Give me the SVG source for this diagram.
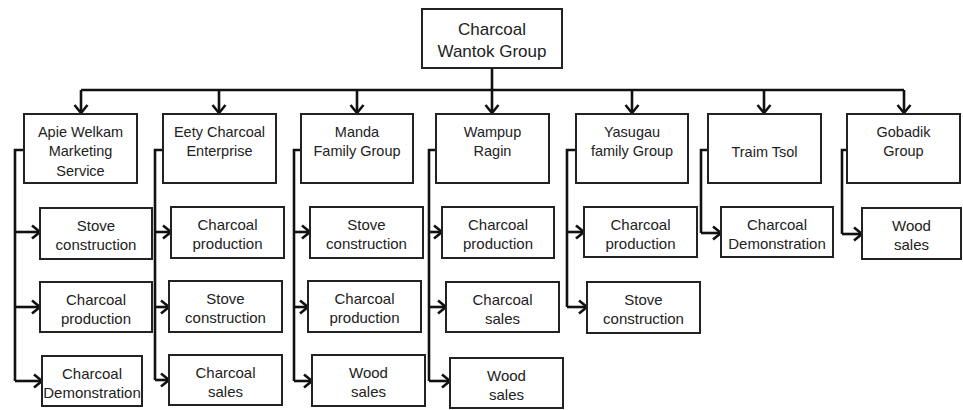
<svg xmlns="http://www.w3.org/2000/svg" width="963" height="410" viewBox="0 0 963 410">
<style>
.box{fill:#fff;stroke:#222;stroke-width:2}
.t1{font-family:"Liberation Sans",Arial,sans-serif;font-size:14.5px;fill:#222;text-anchor:middle}
.t0{font-family:"Liberation Sans",Arial,sans-serif;font-size:17px;fill:#222;text-anchor:middle}
.t2{font-family:"Liberation Sans",Arial,sans-serif;font-size:15px;fill:#222;text-anchor:middle}
.c{fill:none;stroke:#111;stroke-width:2.6}
.a{fill:none;stroke:#111;stroke-width:2.6;marker-end:url(#arr)}
</style>
<defs>
<marker id="arr" markerUnits="userSpaceOnUse" markerWidth="14" markerHeight="16" refX="11" refY="8" orient="auto">
<path d="M3,1.5 L11,8 L3,14.5" fill="none" stroke="#111" stroke-width="2.6"/>
</marker>
</defs>
<g id="connectors">
<path class="c" d="M492,68 V90 M81,90 H904"/>
<path class="a" d="M81,90 V113"/>
<path class="a" d="M219,90 V113"/>
<path class="a" d="M357,90 V113"/>
<path class="a" d="M492,90 V113"/>
<path class="a" d="M632,90 V113"/>
<path class="a" d="M764,90 V113"/>
<path class="a" d="M904,90 V113"/>
<path class="c" d="M24,150 H15 V381"/>
<path class="a" d="M15,232 H40"/>
<path class="a" d="M15,307 H40"/>
<path class="a" d="M15,381 H42"/>
<path class="c" d="M163,150 H155 V380"/>
<path class="a" d="M155,232 H171"/>
<path class="a" d="M155,307 H169"/>
<path class="a" d="M155,380 H169"/>
<path class="c" d="M301,150 H294 V381"/>
<path class="a" d="M294,232 H310"/>
<path class="a" d="M294,307 H308"/>
<path class="a" d="M294,381 H312"/>
<path class="c" d="M436,150 H429 V381"/>
<path class="a" d="M429,232 H442"/>
<path class="a" d="M429,307 H446"/>
<path class="a" d="M429,381 H450"/>
<path class="c" d="M576,150 H567 V307"/>
<path class="a" d="M567,232 H584"/>
<path class="a" d="M567,307 H587"/>
<path class="c" d="M708,150 H701 V233"/>
<path class="a" d="M701,233 H721"/>
<path class="c" d="M847,150 H842 V234"/>
<path class="a" d="M842,234 H862"/>
</g>
<g id="root"><rect class="box" x="422" y="9" width="140" height="59"/><text class="t0" x="492" y="35">Charcoal</text><text class="t0" x="492" y="57">Wantok Group</text></g>
<g id="n1"><rect class="box" x="24" y="114" width="113" height="69"/><text class="t1" x="80.5" y="137">Apie Welkam</text><text class="t1" x="80.5" y="156">Marketing</text><text class="t1" x="80.5" y="176">Service</text></g>
<g id="n2"><rect class="box" x="163" y="114" width="113" height="69"/><text class="t1" x="219.5" y="137">Eety Charcoal</text><text class="t1" x="219.5" y="156">Enterprise</text></g>
<g id="n3"><rect class="box" x="301" y="114" width="112" height="69"/><text class="t1" x="357" y="137">Manda</text><text class="t1" x="357" y="156">Family Group</text></g>
<g id="n4"><rect class="box" x="436" y="114" width="113" height="69"/><text class="t1" x="492.5" y="137">Wampup</text><text class="t1" x="492.5" y="156">Ragin</text></g>
<g id="n5"><rect class="box" x="576" y="114" width="112" height="69"/><text class="t1" x="632" y="137">Yasugau</text><text class="t1" x="632" y="156">family Group</text></g>
<g id="n6"><rect class="box" x="708" y="114" width="113" height="69"/><text class="t1" x="764.5" y="157">Traim Tsol</text></g>
<g id="n7"><rect class="box" x="847" y="114" width="113" height="69"/><text class="t1" x="903.5" y="137">Gobadik</text><text class="t1" x="903.5" y="156">Group</text></g>
<g id="n1a"><rect class="box" x="40" y="208" width="112" height="51"/><text class="t2" x="96" y="231">Stove</text><text class="t2" x="96" y="250">construction</text></g>
<g id="n1b"><rect class="box" x="40" y="282" width="112" height="50"/><text class="t2" x="96" y="305">Charcoal</text><text class="t2" x="96" y="324">production</text></g>
<g id="n1c"><rect class="box" x="42" y="356" width="100" height="50"/><text class="t2" x="92" y="379">Charcoal</text><text class="t2" x="92" y="398">Demonstration</text></g>
<g id="n2a"><rect class="box" x="171" y="207" width="113" height="51"/><text class="t2" x="227.5" y="230">Charcoal</text><text class="t2" x="227.5" y="249">production</text></g>
<g id="n2b"><rect class="box" x="169" y="281" width="113" height="51"/><text class="t2" x="225.5" y="304">Stove</text><text class="t2" x="225.5" y="323">construction</text></g>
<g id="n2c"><rect class="box" x="169" y="355" width="113" height="50"/><text class="t2" x="225.5" y="378">Charcoal</text><text class="t2" x="225.5" y="397">sales</text></g>
<g id="n3a"><rect class="box" x="310" y="207" width="113" height="51"/><text class="t2" x="366.5" y="230">Stove</text><text class="t2" x="366.5" y="249">construction</text></g>
<g id="n3b"><rect class="box" x="308" y="281" width="113" height="51"/><text class="t2" x="364.5" y="304">Charcoal</text><text class="t2" x="364.5" y="323">production</text></g>
<g id="n3c"><rect class="box" x="312" y="355" width="113" height="51"/><text class="t2" x="368.5" y="378">Wood</text><text class="t2" x="368.5" y="397">sales</text></g>
<g id="n4a"><rect class="box" x="442" y="207" width="112" height="51"/><text class="t2" x="498" y="230">Charcoal</text><text class="t2" x="498" y="249">production</text></g>
<g id="n4b"><rect class="box" x="446" y="282" width="113" height="50"/><text class="t2" x="502.5" y="305">Charcoal</text><text class="t2" x="502.5" y="324">sales</text></g>
<g id="n4c"><rect class="box" x="450" y="358" width="113" height="50"/><text class="t2" x="506.5" y="381">Wood</text><text class="t2" x="506.5" y="400">sales</text></g>
<g id="n5a"><rect class="box" x="584" y="207" width="113" height="50"/><text class="t2" x="640.5" y="230">Charcoal</text><text class="t2" x="640.5" y="249">production</text></g>
<g id="n5b"><rect class="box" x="587" y="282" width="113" height="51"/><text class="t2" x="643.5" y="305">Stove</text><text class="t2" x="643.5" y="324">construction</text></g>
<g id="n6a"><rect class="box" x="721" y="207" width="112" height="50"/><text class="t2" x="777" y="230">Charcoal</text><text class="t2" x="777" y="249">Demonstration</text></g>
<g id="n7a"><rect class="box" x="862" y="208" width="99" height="51"/><text class="t2" x="911.5" y="231">Wood</text><text class="t2" x="911.5" y="250">sales</text></g>
</svg>
